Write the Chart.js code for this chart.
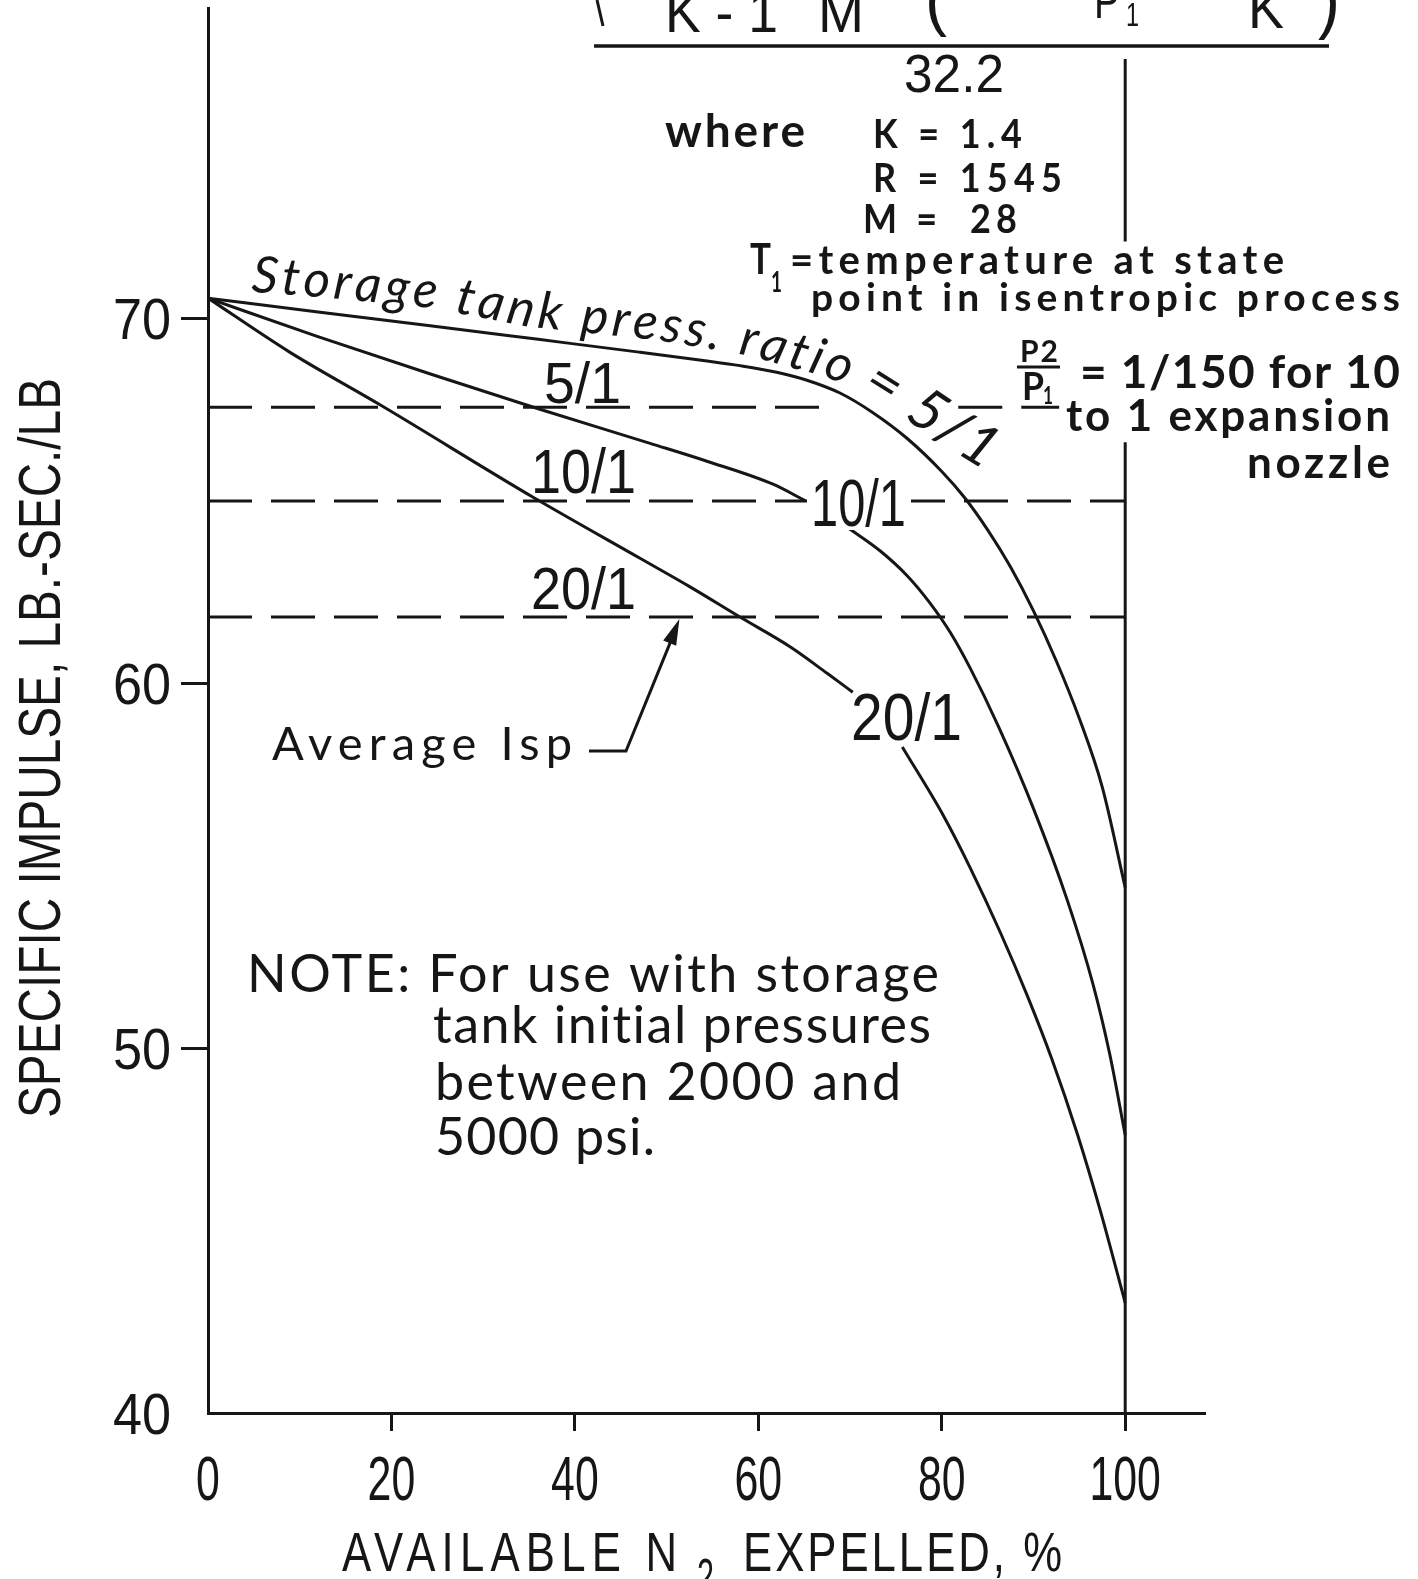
<!DOCTYPE html>
<html>
<head>
<meta charset="utf-8">
<script src="https://cdn.jsdelivr.net/npm/chart.js@4.4.1/dist/chart.umd.min.js"></script>
<style>
  html, body { margin: 0; background: #fff; }
  #wrap { width: 1418px; height: 1579px; }
</style>
</head>
<body>
<div id="wrap"><canvas id="chart" width="1418" height="1579"></canvas></div>
<script>
// Specific impulse vs. available N2 expelled, for three storage tank pressure ratios
// (null = curve broken where its label sits)
var expelled5 = [0, 12, 24, 36, 47, 54, 58, 62, 65.3, 68.9, 72.5, 76.2, 80, 82.5, 85, 87.5, 90, 92.5, 95, 97.5, 100];
var isp5      = [70.55, 70.17, 69.8, 69.42, 69.07, 68.84, 68.7, 68.52, 68.3, 67.95, 67.41, 66.71, 65.8, 65.08, 64.2, 63.18, 61.98, 60.6, 59.03, 57.15, 54.4];

var expelled10 = [0, 11.9, 24.5, 36, 48.2, 54.4, 61.6, 65.1, 67.4, 69.7, 73.3, 76.2, 78.7, 80.9, 83.1, 86.2, 90.0, 93.7, 96.5, 98.3, 100];
var isp10      = [70.55, 69.5, 68.45, 67.52, 66.57, 66.08, 65.45, 65.0, null, 64.27, 63.62, 62.95, 62.2, 61.4, 60.41, 58.8, 56.56, 54.04, 51.74, 49.85, 47.62];

var expelled20 = [0, 8.9, 18.8, 35.4, 47.1, 52.6, 58.0, 63.5, 67.5, 70.3, 73.0, 75.7, 80.2, 83.1, 86.4, 89.3, 92.0, 94.8, 97.3, 100];
var isp20      = [70.55, 69.07, 67.62, 65.1, 63.42, 62.63, 61.81, 60.99, 60.27, 59.75, null, 58.25, 56.36, 54.94, 53.16, 51.45, 49.7, 47.63, 45.53, 43.02];

// average Isp (dashed lines) for 5/1, 10/1, 20/1
var ratioLabels = ['5/1', '10/1', '20/1'];
var avgIsp = [67.56, 64.99, 61.81];

var xTicks = [0, 20, 40, 60, 80, 100];
var yTicks = [40, 50, 60, 70];

var ink = '#161616';
var LS = "'Liberation Sans', Arial, sans-serif";
var LATO = "Lato, 'Open Sans', sans-serif";

function pts(xs, ys) {
  return xs.map(function(x, i) { return { x: x, y: ys[i] }; });
}

function curveSet(xs, ys) {
  return {
    data: pts(xs, ys), showLine: true, borderColor: ink, borderWidth: 3,
    pointRadius: 0, cubicInterpolationMode: 'monotone', spanGaps: false
  };
}

function dashSet(data) {
  return {
    data: data, showLine: true, borderColor: ink, borderWidth: 3,
    pointRadius: 0, borderDash: [44, 19], spanGaps: false
  };
}

// write a text; o.w = wanted width, reached by squeezing (default) or letter spacing
function put(ctx, text, x, y, o) {
  ctx.save();
  ctx.font = o.font;
  ctx.letterSpacing = '0px';
  ctx.fillStyle = ink;
  ctx.textBaseline = 'alphabetic';
  ctx.textAlign = 'left';
  var nat = ctx.measureText(text).width;
  var sx = o.sx || 1, sp = 0, width;
  if (o.w && o.mode === 'space') {
    var n = Array.from(text).length;
    sp = (o.w / sx - nat) / (n - 1);
    width = o.w;
  } else if (o.w) {
    sx = o.w / nat;
    width = o.w;
  } else {
    width = nat * sx;
  }
  ctx.translate(x, y);
  if (o.rot) ctx.rotate(o.rot);
  var x0 = o.align === 'center' ? -width / 2 : (o.align === 'right' ? -width : 0);
  ctx.translate(x0, 0);
  ctx.scale(sx, 1);
  ctx.letterSpacing = sp + 'px';
  ctx.fillText(text, 0, 0);
  ctx.restore();
}

// text laid along a polyline (path = middle of the x-height)
function textOnPath(ctx, text, path, font, size) {
  ctx.save();
  ctx.font = font;
  ctx.fillStyle = ink;
  ctx.textBaseline = 'alphabetic';
  var segs = [], total = 0;
  for (var i = 1; i < path.length; i++) {
    var dx = path[i][0] - path[i - 1][0], dy = path[i][1] - path[i - 1][1];
    var l = Math.sqrt(dx * dx + dy * dy);
    segs.push({ x: path[i - 1][0], y: path[i - 1][1], dx: dx, dy: dy, l: l, s: total });
    total += l;
  }
  var chars = Array.from(text);
  var widths = chars.map(function(c) { return ctx.measureText(c).width; });
  var sum = widths.reduce(function(a, b) { return a + b; }, 0);
  var sp = (total - sum) / (chars.length - 1);
  var s = 0;
  chars.forEach(function(c, k) {
    var mid = s + widths[k] / 2;
    var sg = segs[segs.length - 1];
    for (var j = 0; j < segs.length; j++) {
      if (mid <= segs[j].s + segs[j].l) { sg = segs[j]; break; }
    }
    var t = (mid - sg.s) / sg.l;
    ctx.save();
    ctx.translate(sg.x + sg.dx * t, sg.y + sg.dy * t);
    ctx.rotate(Math.atan2(sg.dy, sg.dx));
    ctx.fillText(c, -widths[k] / 2, size * 0.25);
    ctx.restore();
    s += widths[k] + sp;
  });
  ctx.restore();
}

var annotate = {
  id: 'annotate',
  afterDraw: function(chart) {
    var ctx = chart.ctx;
    var xs = chart.scales.x, ys = chart.scales.y;

    // tick labels
    yTicks.forEach(function(v) {
      put(ctx, String(v), 171, ys.getPixelForValue(v) + 21, { font: '58px ' + LS, sx: 0.9, align: 'right' });
    });
    xTicks.forEach(function(v) {
      put(ctx, String(v), xs.getPixelForValue(v), 1500, { font: '63px ' + LS, sx: 0.68, align: 'center' });
    });

    // axis titles
    put(ctx, 'SPECIFIC IMPULSE, LB.-SEC./LB', 60, 748, { font: '60px ' + LS, w: 740, align: 'center', rot: -Math.PI / 2 });
    put(ctx, 'AVAILABLE N', 342, 1571, { font: '56px ' + LS, w: 335, mode: 'space', sx: 0.78 });
    put(ctx, '2', 697, 1594, { font: '50px ' + LS, w: 17 });
    put(ctx, 'EXPELLED, %', 743, 1571, { font: '56px ' + LS, w: 319, mode: 'space', sx: 0.78 });

    // formula (cut at the top of the page)
    ctx.save();
    ctx.strokeStyle = ink; ctx.lineWidth = 3.5;
    ctx.beginPath(); ctx.moveTo(594, 46); ctx.lineTo(1329, 46); ctx.stroke();
    ctx.lineWidth = 3;
    ctx.beginPath(); ctx.moveTo(597, 0); ctx.lineTo(603, 26); ctx.stroke();
    ctx.restore();
    put(ctx, 'K - 1', 665, 32, { font: '58px ' + LS, w: 113 });
    put(ctx, 'M', 818, 32, { font: '58px ' + LS, w: 46 });
    put(ctx, '(', 925, 22, { font: '70px ' + LS, w: 22 });
    put(ctx, 'P', 1094, 18, { font: '50px ' + LS, w: 26 });
    put(ctx, '1', 1126, 26, { font: '34px ' + LS, w: 13 });
    put(ctx, 'K', 1248, 28, { font: '58px ' + LS, w: 36 });
    put(ctx, ')', 1318, 24, { font: '76px ' + LS, w: 22 });
    put(ctx, '32.2', 904, 92, { font: '54px ' + LS, w: 100 });

    put(ctx, 'where', 665, 147, { font: 'bold 46px ' + LATO, w: 140, mode: 'space' });
    put(ctx, 'K = 1.4', 873, 148, { font: 'bold 40px ' + LATO, w: 149, mode: 'space', sx: 0.9 });
    put(ctx, 'R = 1545', 873, 192, { font: 'bold 40px ' + LATO, w: 189, mode: 'space', sx: 0.9 });
    put(ctx, 'M =  28', 863, 233, { font: 'bold 40px ' + LATO, w: 154, mode: 'space', sx: 0.9 });
    put(ctx, 'T', 750, 274, { font: 'bold 42px ' + LATO, w: 21 });
    put(ctx, '1', 771, 292, { font: 'bold 28px ' + LATO, w: 11 });
    put(ctx, '=temperature at state', 790, 274, { font: 'bold 40px ' + LATO, w: 494, mode: 'space' });
    put(ctx, 'point in isentropic process', 811, 311, { font: 'bold 39px ' + LATO, w: 589, mode: 'space' });
    put(ctx, 'P2', 1020, 362, { font: 'bold 30px ' + LATO, w: 38, mode: 'space' });
    ctx.save();
    ctx.strokeStyle = ink; ctx.lineWidth = 3;
    ctx.beginPath(); ctx.moveTo(1017, 367); ctx.lineTo(1060, 367); ctx.stroke();
    ctx.restore();
    put(ctx, 'P', 1022, 400, { font: 'bold 38px ' + LATO, w: 22 });
    put(ctx, '1', 1043, 404, { font: 'bold 24px ' + LATO, w: 10 });
    put(ctx, '= 1/150 for 10', 1080, 388, { font: 'bold 46px ' + LATO, w: 320, mode: 'space' });
    put(ctx, 'to 1 expansion', 1066, 431, { font: 'bold 44px ' + LATO, w: 324, mode: 'space' });
    put(ctx, 'nozzle', 1247, 478, { font: 'bold 44px ' + LATO, w: 143, mode: 'space' });

    // curve title following the 5/1 curve
    textOnPath(ctx, 'Storage tank press. ratio',
      [[252, 279], [317, 284], [431, 295], [530, 314], [655, 327], [705, 335], [756, 344],
       [783, 352], [816, 361], [851, 372]],
      'italic 51px ' + LATO, 51);
    textOnPath(ctx, '= 5/1',
      [[868, 378], [900, 398], [930, 418], [960, 438], [992, 458]],
      'italic 58px ' + LATO, 58);

    // ratio labels on the average lines and on the curves
    put(ctx, ratioLabels[0], 544, 403, { font: '57px ' + LS, w: 77 });
    put(ctx, ratioLabels[1], 531, 493, { font: '63px ' + LS, w: 105 });
    put(ctx, ratioLabels[2], 531, 609, { font: '60px ' + LS, w: 105 });
    ctx.save(); ctx.fillStyle = '#fff'; ctx.fillRect(807, 474, 104, 56); ctx.restore();
    put(ctx, ratioLabels[1], 811, 526, { font: '66px ' + LS, w: 95 });
    put(ctx, ratioLabels[2], 851, 740, { font: '66px ' + LS, w: 111 });

    // Average Isp pointer
    put(ctx, 'Average Isp', 272, 760, { font: '47px ' + LATO, w: 300, mode: 'space' });
    var tipX = xs.getPixelForValue(51.4), tipY = ys.getPixelForValue(avgIsp[2]) + 2;
    ctx.save();
    ctx.strokeStyle = ink; ctx.fillStyle = ink; ctx.lineWidth = 3;
    ctx.beginPath(); ctx.moveTo(589, 751); ctx.lineTo(626, 751); ctx.lineTo(tipX - 7, tipY + 18); ctx.stroke();
    var ux = tipX - 626, uy = tipY - 751, ul = Math.sqrt(ux * ux + uy * uy);
    ux /= ul; uy /= ul;
    ctx.beginPath();
    ctx.moveTo(tipX, tipY);
    ctx.lineTo(tipX - ux * 26 - uy * 7, tipY - uy * 26 + ux * 7);
    ctx.lineTo(tipX - ux * 26 + uy * 7, tipY - uy * 26 - ux * 7);
    ctx.closePath(); ctx.fill();
    ctx.restore();

    // note
    put(ctx, 'NOTE: For use with storage', 247, 992, { font: '52px ' + LATO, w: 692, mode: 'space' });
    put(ctx, 'tank initial pressures', 433, 1043, { font: '52px ' + LATO, w: 499, mode: 'space' });
    put(ctx, 'between 2000 and', 435, 1100, { font: '52px ' + LATO, w: 466, mode: 'space' });
    put(ctx, '5000 psi.', 435, 1155, { font: '52px ' + LATO, w: 220, mode: 'space' });
  }
};

var ctx = document.getElementById('chart').getContext('2d');
new Chart(ctx, {
  type: 'scatter',
  data: {
    datasets: [
      curveSet(expelled5, isp5),
      curveSet(expelled10, isp10),
      curveSet(expelled20, isp20),
      dashSet([{ x: 0, y: avgIsp[0] }, { x: 68.5, y: avgIsp[0] }, { x: 70, y: null }, { x: 81.8, y: avgIsp[0] }, { x: 92.8, y: avgIsp[0] }]),
      dashSet([{ x: 0, y: avgIsp[1] }, { x: 100, y: avgIsp[1] }]),
      dashSet([{ x: 0, y: avgIsp[2] }, { x: 100, y: avgIsp[2] }]),
      // 100 % reference line
      { data: [{ x: 100, y: 77.1 }, { x: 100, y: 72.1 }, { x: 100, y: null }, { x: 100, y: 66.6 }, { x: 100, y: 40 }],
        showLine: true, borderColor: ink, borderWidth: 3, pointRadius: 0, spanGaps: false }
    ]
  },
  options: {
    responsive: false,
    animation: false,
    events: [],
    layout: { padding: { top: 8, right: 213, bottom: 0, left: 0 } },
    plugins: { legend: { display: false }, tooltip: { enabled: false } },
    scales: {
      x: {
        type: 'linear', min: 0, max: 108.7,
        afterBuildTicks: function(s) { s.ticks = xTicks.map(function(v) { return { value: v }; }); },
        afterFit: function(s) { s.height = 166; },
        ticks: { display: false },
        grid: {
          drawOnChartArea: false, drawTicks: true, tickLength: 18, tickWidth: 3,
          tickColor: function(c) { return c.tick && c.tick.value === 0 ? 'rgba(0,0,0,0)' : ink; }
        },
        border: { display: true, color: ink, width: 3 }
      },
      y: {
        type: 'linear', min: 40, max: 78.5,
        afterBuildTicks: function(s) { s.ticks = yTicks.map(function(v) { return { value: v }; }); },
        afterFit: function(s) { s.width = 208; },
        ticks: { display: false },
        grid: {
          drawOnChartArea: false, drawTicks: true, tickLength: 27, tickWidth: 3,
          tickColor: function(c) { return c.tick && c.tick.value === 40 ? 'rgba(0,0,0,0)' : ink; }
        },
        border: { display: true, color: ink, width: 3 }
      }
    }
  },
  plugins: [annotate]
});
</script>
</body>
</html>
